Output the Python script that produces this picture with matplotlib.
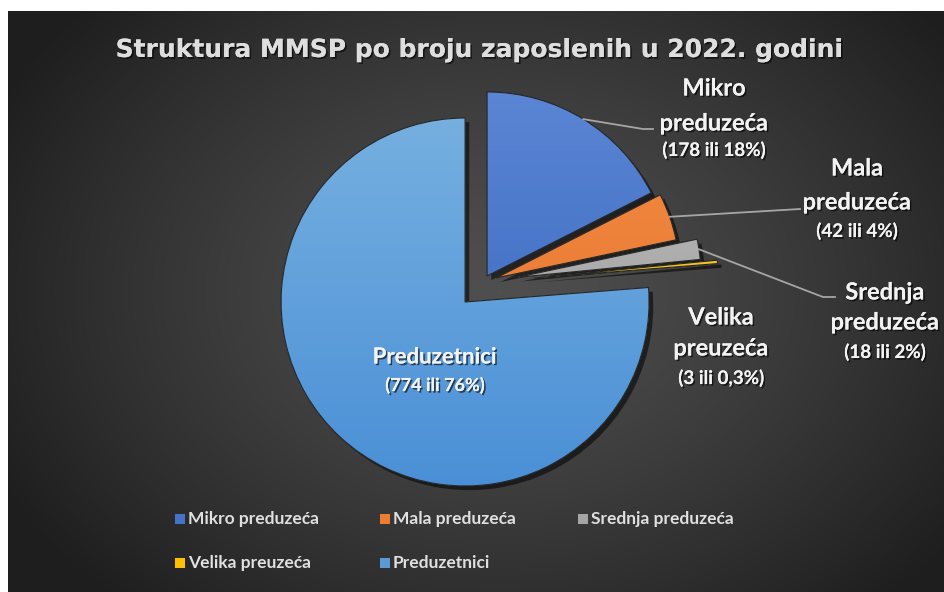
import numpy as np
import matplotlib
matplotlib.use("Agg")
import matplotlib.pyplot as plt
import matplotlib.patheffects as pe
from matplotlib.colors import LinearSegmentedColormap

# data
categories = ["Mikro preduzeća", "Mala preduzeća", "Srednja preduzeća",
              "Velika preuzeća", "Preduzetnici"]
counts = [178, 42, 18, 3, 774]
share_text = ["18%", "4%", "2%", "0,3%", "76%"]
label_names = ["Mikro\npreduzeća", "Mala\npreduzeća", "Srednja\npreduzeća",
               "Velika\npreuzeća", "Preduzetnici"]
title = "Struktura MMSP po broju zaposlenih u 2022. godini"

# styles
base_colors = ["#4472c4", "#ed7d31", "#a5a5a5", "#ffc000", "#5b9bd5"]
grad_top = ["#5b86d4", "#f28c45", "#bdbdbd", "#ffd040", "#76b0e0"]
grad_bot = ["#3563bd", "#e7722a", "#9a9a9a", "#f0b400", "#4a8fd6"]
explode_px = [7.8, 13.9, 34.5, 51.3, 26.4]
W, H = 944, 592
FONT = "Lato"

fig = plt.figure(figsize=(W / 100, H / 100), dpi=100)
fig.patch.set_facecolor("white")
ax = fig.add_axes([0, 0, 1, 1])
ax.set_xlim(0, W)
ax.set_ylim(0, H)
ax.set_aspect("equal")
ax.axis("off")

# dark radial background (chart area starts below a white strip on top / left)
yy, xx = np.mgrid[0:581, 8:W]
r = np.sqrt(((xx - 500) / 560.0) ** 2 + ((yy - 300) / 420.0) ** 2)
bg = 0.31 - 0.19 * np.clip(r, 0, 1) ** 1.3
ax.imshow(np.dstack([bg, bg, bg]), extent=[8, W, 0, 581], origin="lower",
          zorder=0, aspect="auto")

wedges, _ = ax.pie(counts, colors=base_colors, startangle=90, counterclock=False,
                   explode=explode_px, radius=184, center=(483, 309.4),
                   frame=True,
                   wedgeprops=dict(edgecolor="none", linewidth=0))
ax.set_xlim(0, W)
ax.set_ylim(0, H)
ax.axis("off")

grad = np.linspace(0, 1, 64).reshape(-1, 1)
for w, c0, c1 in zip(wedges, grad_top, grad_bot):
    w.set_zorder(2)
    w.set_path_effects([pe.withSimplePatchShadow(offset=(3, -3), shadow_rgbFace="black",
                                                 alpha=0.55), pe.Normal()])
    cx, cy = w.center
    cmap = LinearSegmentedColormap.from_list("g", [c1, c0])
    im = ax.imshow(grad, cmap=cmap, origin="lower", aspect="auto", zorder=3,
                   extent=[cx - 190, cx + 190, cy - 190, cy + 190])
    im.set_clip_path(w)
    ax.add_patch(matplotlib.patches.Wedge(w.center, w.r, w.theta1, w.theta2,
                                          facecolor="none", edgecolor="#262626",
                                          linewidth=0.8, zorder=4))


def arc_mid(w, rr=1.0):
    a = np.deg2rad((w.theta1 + w.theta2) / 2)
    return w.center[0] + rr * w.r * np.cos(a), w.center[1] + rr * w.r * np.sin(a)


txt_color = "#f2f2f2"
shadow = [pe.withSimplePatchShadow(offset=(1.2, -1.2), shadow_rgbFace="black", alpha=0.6),
          pe.Normal()]

ax.text(480, 542, title, ha="center", va="center", fontsize=18, color="#dedede",
        family="DejaVu Sans", fontweight="bold", path_effects=shadow, zorder=6)

# label anchors: x, first line, second line, value line
label_pos = [(714, 504, 469, 442), (857, 424, 390, 361), (885, 300, 270, 240),
             (721, 275, 244, 214), (435, 235, None, 207)]
for i, (x, y1, y2, yv) in enumerate(label_pos):
    name = label_names[i]
    if "\n" in name:
        l1, l2 = name.split("\n")
        ax.text(x, y1, l1, ha="center", va="center", fontsize=17, color=txt_color,
                family=FONT, fontweight="bold", path_effects=shadow, zorder=6)
        ax.text(x, y2, l2, ha="center", va="center", fontsize=17, color=txt_color,
                family=FONT, fontweight="bold", path_effects=shadow, zorder=6)
        vs = 13.5
    else:
        ax.text(x, y1, name, ha="center", va="center", fontsize=16, color=txt_color,
                family=FONT, fontweight="bold", path_effects=shadow, zorder=6)
        vs = 13
    ax.text(x, yv, f"({counts[i]} ili {share_text[i]})", ha="center", va="center",
            fontsize=vs, color=txt_color, family=FONT, fontweight="bold",
            path_effects=shadow, zorder=6)

# leader lines
lc = "#a6a6a6"
x0, y0 = arc_mid(wedges[0])
ax.plot([x0, 643, 653], [y0, 463, 463], color=lc, lw=1.3, zorder=5)
x0, y0 = arc_mid(wedges[1])
ax.plot([x0, 800], [y0, 383], color=lc, lw=1.3, zorder=5)
x0, y0 = arc_mid(wedges[2])
ax.plot([x0, 823, 835], [y0, 295, 295], color=lc, lw=1.3, zorder=5)

# legend, row-wise like Excel
leg_xy = [(180, 73), (385, 73), (583, 73), (180, 29), (385, 29)]
for (lx, ly), name, col in zip(leg_xy, categories, base_colors):
    ax.add_patch(matplotlib.patches.Rectangle((lx - 5, ly - 5), 10, 10, facecolor=col,
                                              edgecolor="none", zorder=6))
    ax.text(lx + 8, ly, name, ha="left", va="center", fontsize=12.5, color="#e0e0e0",
            family=FONT, fontweight="bold", zorder=6)

fig.savefig("out.png", dpi=100, facecolor="white")
